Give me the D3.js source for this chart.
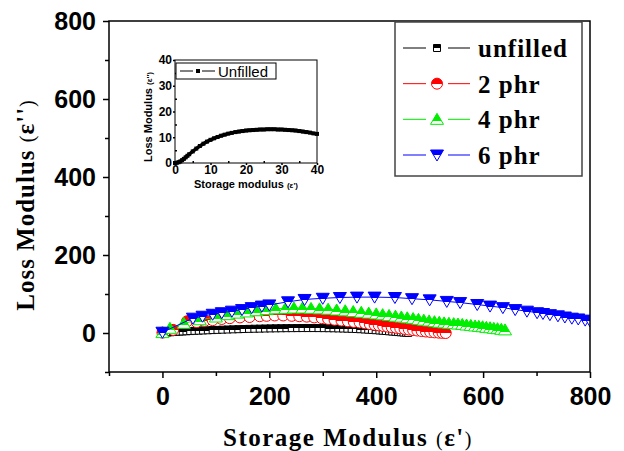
<!DOCTYPE HTML>
<html lang="en-US">
<head>
    <meta charset="UTF-8">
    <title>Cole-Cole plot</title>
    <script src="https://cdn.jsdelivr.net/npm/d3@7/dist/d3.min.js"></script>
    <style type="text/css">
        body { margin: 0; background: #fff; }
        svg { display: block; }
        .axis path, .axis line { stroke: #000; stroke-width: 1.5; }
        .main .tick text { font: bold 25px "Liberation Sans", Arial, sans-serif; fill: #000; }
        .inset .tick text { font: bold 12px "Liberation Sans", Arial, sans-serif; fill: #000; }
        .title { font-family: "Liberation Serif", "Times New Roman", serif; font-weight: bold; }
        .legend text { font: bold 25px "Liberation Serif", "Times New Roman", serif; letter-spacing: 1px; }
    </style>
</head>
<body>
<svg xmlns="http://www.w3.org/2000/svg" width="624" height="451"></svg>

<script type="text/javascript">
    // tick labels
    var xTicks = [0, 200, 400, 600, 800];
    var yTicks = [0, 200, 400, 600, 800];
    var insetTicks = [0, 10, 20, 30, 40];
    var seriesNames = ["unfilled", "2 phr", "4 phr", "6 phr"];

    // unfilled (main plot)
    var unfilledX = [0, 3, 6, 10, 15, 20, 26, 32, 38, 45, 52, 60, 68, 76, 85, 94, 103, 112, 122, 132, 142, 152, 162, 172,
        182, 192, 202, 212, 222, 232, 242, 252, 262, 272, 282, 292, 302, 311, 320, 329, 338, 346, 354, 362, 370, 378,
        385, 392, 399, 406, 412, 418, 424, 430, 436, 441, 446, 451, 456, 460];
    var unfilledY = [0, 0.5, 1, 1.5, 2, 2.5, 3, 3.5, 4, 4.5, 5, 5.5, 6, 6.5, 7, 7.5, 8, 8.5, 9, 9.4, 9.8, 10.2, 10.6, 10.9,
        11.2, 11.5, 11.8, 12, 12.2, 12.4, 12.5, 12.6, 12.7, 12.7, 12.7, 12.6, 12.5, 12.3, 12.1, 11.8, 11.5, 11.1,
        10.7, 10.2, 9.7, 9.1, 8.5, 7.9, 7.2, 6.5, 5.8, 5.1, 4.4, 3.7, 3.0, 2.4, 1.8, 1.2, 0.7, 0.3];

    // 2 phr
    var phr2X = [0, 20, 46, 64, 79, 94, 111, 126, 145, 163, 182, 195, 210, 226, 242, 256, 270, 284, 298, 310, 322, 335,
        347, 358, 369, 379, 388, 397, 405, 413, 421, 429, 437, 445, 453, 461, 469, 477, 485, 493, 501, 509, 517, 524, 530];
    var phr2Y = [1, 8, 30, 28, 31, 33, 36, 38, 40, 41, 43, 44, 45, 45, 44, 43, 42, 40, 38, 36, 34, 32,
        30, 28.5, 27, 25, 23, 21, 19.5, 18, 16.5, 15, 13.5, 12, 10.5, 9, 7.6, 6.3, 5, 3.8, 2.7, 1.7, 0.9, 0.3, 0];

    // 4 phr
    var phr4X = [0, 14, 40, 70, 100, 122, 140, 158, 176, 195, 212, 230, 246, 262, 278, 294, 310, 326, 342, 357, 372, 386,
        400, 412, 424, 436, 447, 458, 469, 479, 489, 499, 509, 518, 527, 536, 545, 553, 561, 569, 577, 585, 592, 599,
        606, 613, 620, 627, 634, 641];
    var phr4Y = [1, 12, 25, 34, 41, 47, 51, 54, 57, 60, 62, 63, 64, 64, 63, 62, 61, 59, 57, 55, 53, 51,
        49, 47, 45, 43, 41, 39, 37, 35, 33, 31, 29, 27.5, 26, 25, 24, 23, 22, 20.5, 19.5, 18, 17, 16,
        14.5, 13.5, 12, 11, 9.5, 8];

    // 6 phr
    var phr6X = [0, 57, 75, 94, 111, 130, 149, 167, 186, 200, 235, 266, 300, 332, 364, 397, 435, 467, 500, 532, 557, 589,
        613, 637, 660, 682, 701, 712, 725, 740, 753, 766, 778, 791, 800, 808];
    var phr6Y = [2, 38, 43, 48, 52, 56, 60, 65, 69, 72, 80, 86, 89, 91, 92, 92, 91, 88, 85, 81, 78, 73,
        69, 65, 60, 56, 52, 50, 47, 44, 41, 38, 36, 33, 31, 29];

    // unfilled (inset)
    var insetX = [0, 0.5, 1, 1.5, 2, 2.5, 3, 3.5, 4, 5, 6, 7, 8, 9, 10, 11, 12, 13, 14, 15, 16, 17, 18, 19, 20,
        21, 22, 23, 24, 25, 26, 27, 28, 29, 30, 31, 32, 33, 34, 35, 36, 37, 38, 39, 40];
    var insetY = [0, 0.1, 0.3, 0.6, 1.1, 1.6, 2.2, 2.8, 3.4, 4.5, 5.6, 6.6, 7.5, 8.3, 9.0, 9.6, 10.1, 10.6, 11.0, 11.4,
        11.7, 12.0, 12.2, 12.4, 12.6, 12.7, 12.8, 12.9, 13.0, 13.0, 13.1, 13.1, 13.1, 13.0, 13.0, 12.9, 12.8, 12.7,
        12.6, 12.4, 12.2, 12.0, 11.8, 11.5, 11.3];

    (function () {
        var svg = d3.select("svg");

        var x = d3.scaleLinear().domain([-100, 800]).range([109, 590]);
        var y = d3.scaleLinear().domain([-100, 800]).range([372, 21]);

        var defs = svg.append("defs");
        defs.append("clipPath").attr("id", "plotClip")
            .append("rect").attr("x", 109).attr("y", 21).attr("width", 481).attr("height", 351);

        // half filled markers (top part coloured)
        var colors = ["#000000", "#ff0000", "#00ee00", "#0000ff"];
        var fillTo = ["55%", "50%", "72%", "50%"];
        colors.forEach(function (c, i) {
            var g = defs.append("linearGradient").attr("id", "half" + i)
                .attr("x1", 0).attr("y1", 0).attr("x2", 0).attr("y2", 1);
            g.append("stop").attr("offset", fillTo[i]).attr("stop-color", c);
            g.append("stop").attr("offset", fillTo[i]).attr("stop-color", "#fff");
        });

        var shapes = [
            "M-3.5,-3.5L3.5,-3.5L3.5,3.5L-3.5,3.5Z",
            "M-5.5,0A5.5,5.5 0 1,1 5.5,0A5.5,5.5 0 1,1 -5.5,0Z",
            "M0,-6L6.5,5L-6.5,5Z",
            "M-6.5,-5L6.5,-5L0,6Z"
        ];

        var series = [
            {xs: unfilledX, ys: unfilledY},
            {xs: phr2X, ys: phr2Y},
            {xs: phr4X, ys: phr4Y},
            {xs: phr6X, ys: phr6Y}
        ];

        var line = d3.line()
            .x(function (d) { return x(d[0]); })
            .y(function (d) { return y(d[1]); });

        var plot = svg.append("g").attr("clip-path", "url(#plotClip)");

        series.forEach(function (s, i) {
            var pts = d3.zip(s.xs, s.ys);
            var g = plot.append("g");
            g.append("path")
                .attr("d", line(pts))
                .attr("fill", "none")
                .attr("stroke", colors[i])
                .attr("stroke-width", 1);
            g.selectAll("path.m")
                .data(pts)
                .enter().append("path")
                .attr("class", "m")
                .attr("d", shapes[i])
                .attr("transform", function (d) {
                    return "translate(" + x(d[0]) + "," + y(d[1]) + ")";
                })
                .attr("fill", "url(#half" + i + ")")
                .attr("stroke", colors[i])
                .attr("stroke-width", 1);
        });

        // frame
        svg.append("rect")
            .attr("x", 109).attr("y", 21).attr("width", 481).attr("height", 351)
            .attr("fill", "none").attr("stroke", "#000").attr("stroke-width", 1.5);

        // axes
        svg.append("g").attr("class", "axis main")
            .attr("transform", "translate(0,372)")
            .call(d3.axisBottom(x).tickValues(xTicks).tickSize(6).tickPadding(9));
        svg.append("g").attr("class", "axis main")
            .attr("transform", "translate(0,372)")
            .call(d3.axisBottom(x).tickValues([-100, 100, 300, 500, 700]).tickSize(4).tickFormat(""));
        svg.append("g").attr("class", "axis main")
            .attr("transform", "translate(109,0)")
            .call(d3.axisLeft(y).tickValues(yTicks).tickSize(6).tickPadding(7));
        svg.append("g").attr("class", "axis main")
            .attr("transform", "translate(109,0)")
            .call(d3.axisLeft(y).tickValues([-100, 100, 300, 500, 700]).tickSize(4).tickFormat(""));
        svg.selectAll(".axis .domain").remove();

        // axis titles
        var xt = svg.append("text").attr("class", "title")
            .attr("x", 348).attr("y", 446)
            .attr("text-anchor", "middle")
            .style("font-size", "25px").style("letter-spacing", "1.5px");
        xt.append("tspan").text("Storage Modulus ");
        xt.append("tspan").style("font-weight", "normal").style("font-size", "20px").text("(");
        xt.append("tspan").text("ε'");
        xt.append("tspan").style("font-weight", "normal").style("font-size", "20px").text(")");

        var yt = svg.append("text").attr("class", "title")
            .attr("transform", "translate(34,205) rotate(-90)")
            .attr("text-anchor", "middle")
            .style("font-size", "25px").style("letter-spacing", "1px");
        yt.append("tspan").text("Loss Modulus ");
        yt.append("tspan").style("font-weight", "normal").style("font-size", "20px").text("(");
        yt.append("tspan").text("ε''");
        yt.append("tspan").style("font-weight", "normal").style("font-size", "20px").text(")");

        // legend
        var legend = svg.append("g").attr("class", "legend");
        legend.append("rect")
            .attr("x", 395).attr("y", 22).attr("width", 187).attr("height", 154)
            .attr("fill", "#fff").attr("stroke", "#444").attr("stroke-width", 1.5);
        var ly = d3.scalePoint().domain(seriesNames).range([48, 155]);
        seriesNames.forEach(function (name, i) {
            var g = legend.append("g").attr("transform", "translate(0," + ly(name) + ")");
            g.append("line").attr("x1", 403).attr("x2", 426).attr("y1", 0).attr("y2", 0)
                .attr("stroke", colors[i]).attr("stroke-width", 1);
            g.append("line").attr("x1", 448).attr("x2", 470).attr("y1", 0).attr("y2", 0)
                .attr("stroke", colors[i]).attr("stroke-width", 1);
            g.append("path").attr("d", shapes[i])
                .attr("transform", "translate(437,0)")
                .attr("fill", "url(#half" + i + ")")
                .attr("stroke", colors[i]).attr("stroke-width", 1);
            g.append("text").attr("x", 478).attr("y", 9).text(name);
        });

        // inset
        var ix = d3.scaleLinear().domain([0, 40]).range([175, 317]);
        var iy = d3.scaleLinear().domain([0, 40]).range([163, 60]);
        var inset = svg.append("g");
        inset.append("rect")
            .attr("x", 175).attr("y", 60).attr("width", 142).attr("height", 103)
            .attr("fill", "#fff").attr("stroke", "#000").attr("stroke-width", 1);

        var ipts = d3.zip(insetX, insetY);
        inset.append("path")
            .attr("d", d3.line().x(function (d) { return ix(d[0]); }).y(function (d) { return iy(d[1]); })(ipts))
            .attr("fill", "none").attr("stroke", "#000").attr("stroke-width", 3.5);
        inset.selectAll("rect.p").data(ipts).enter().append("rect")
            .attr("class", "p")
            .attr("x", function (d) { return ix(d[0]) - 2; })
            .attr("y", function (d) { return iy(d[1]) - 2; })
            .attr("width", 4).attr("height", 4).attr("fill", "#000");

        inset.append("g").attr("class", "axis inset")
            .attr("transform", "translate(0,163)")
            .call(d3.axisBottom(ix).tickValues(insetTicks).tickSize(2).tickPadding(0));
        inset.append("g").attr("class", "axis inset")
            .attr("transform", "translate(0,163)")
            .call(d3.axisTop(ix).tickValues([5, 15, 25, 35]).tickSize(2).tickFormat(""));
        inset.append("g").attr("class", "axis inset")
            .attr("transform", "translate(175,0)")
            .call(d3.axisLeft(iy).tickValues(insetTicks).tickSize(2).tickPadding(1));
        inset.append("g").attr("class", "axis inset")
            .attr("transform", "translate(175,0)")
            .call(d3.axisRight(iy).tickValues([5, 15, 25, 35]).tickSize(2).tickFormat(""));
        inset.selectAll(".axis path, .axis line").attr("stroke-width", 1);
        inset.selectAll(".axis .domain").remove();

        var ixt = inset.append("text").attr("class", "title")
            .attr("x", 246).attr("y", 188).attr("text-anchor", "middle")
            .style("font-family", "'Liberation Sans', Arial, sans-serif").style("font-size", "11px");
        ixt.append("tspan").text("Storage modulus ");
        ixt.append("tspan").style("font-size", "8px").text("(ε')");

        var iyt = inset.append("text").attr("class", "title")
            .attr("transform", "translate(152,117) rotate(-90)").attr("text-anchor", "middle")
            .style("font-family", "'Liberation Sans', Arial, sans-serif").style("font-size", "11px");
        iyt.append("tspan").text("Loss Modulus ");
        iyt.append("tspan").style("font-size", "8px").text("(ε'')");

        // inset legend
        inset.append("rect")
            .attr("x", 176).attr("y", 63).attr("width", 100).attr("height", 16)
            .attr("fill", "#fff").attr("stroke", "#000").attr("stroke-width", 1);
        inset.append("line").attr("x1", 180).attr("x2", 193).attr("y1", 71).attr("y2", 71)
            .attr("stroke", "#000");
        inset.append("line").attr("x1", 202).attr("x2", 215).attr("y1", 71).attr("y2", 71)
            .attr("stroke", "#000");
        inset.append("rect").attr("x", 196).attr("y", 69).attr("width", 4).attr("height", 4).attr("fill", "#000");
        inset.append("text").attr("x", 218).attr("y", 77)
            .style("font", "15px 'Liberation Sans', Arial, sans-serif").text("Unfilled");
    })();
</script>
</body>
</html>
